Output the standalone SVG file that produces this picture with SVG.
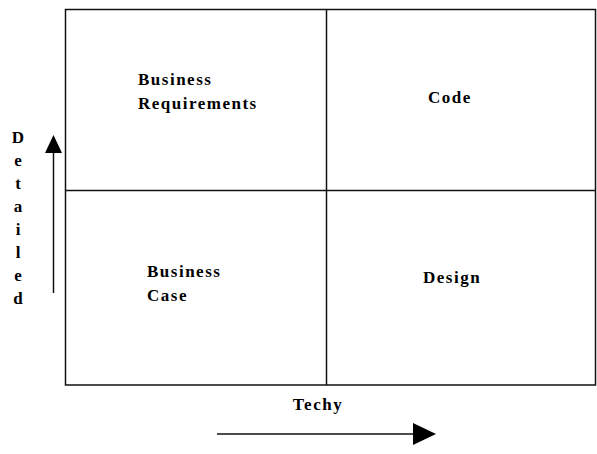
<svg xmlns="http://www.w3.org/2000/svg" width="597" height="454" viewBox="0 0 597 454">
<style>
.t{font-family:"Liberation Serif","Times New Roman",serif;font-weight:bold;font-size:17px;letter-spacing:1.5px;fill:#000}
.ln{stroke:#111;stroke-width:1.5;fill:none}
</style>
<rect width="597" height="454" fill="#fff"/>
<g id="grid">
<rect class="ln" x="65.5" y="9.5" width="530" height="375.5"/>
<line class="ln" x1="326.5" y1="9.5" x2="326.5" y2="385"/>
<line class="ln" x1="65.5" y1="190.5" x2="595.5" y2="190.5"/>
</g>
<g id="business-requirements"><text class="t" x="138" y="85">Business</text><text class="t" x="138" y="109">Requirements</text></g>
<g id="code"><text class="t" x="428" y="103">Code</text></g>
<g id="business-case"><text class="t" x="147" y="277">Business</text><text class="t" x="147" y="301">Case</text></g>
<g id="design"><text class="t" x="423" y="283">Design</text></g>
<g id="detailed" class="t" text-anchor="middle" style="letter-spacing:0">
<text x="18" y="143">D</text><text x="18" y="166">e</text><text x="18" y="189">t</text><text x="18" y="212">a</text><text x="18" y="235">i</text><text x="18" y="258">l</text><text x="18" y="281">e</text><text x="18" y="304">d</text>
</g>
<g id="techy"><text class="t" x="318" y="410" text-anchor="middle">Techy</text></g>
<g id="connectors">
<line class="ln" x1="53.5" y1="293" x2="53.5" y2="150"/>
<polygon points="53.5,135 45,153 62,153" fill="#000"/>
<line class="ln" x1="217" y1="434" x2="416" y2="434"/>
<polygon points="436,434 413,423 413,445" fill="#000"/>
</g>
</svg>
